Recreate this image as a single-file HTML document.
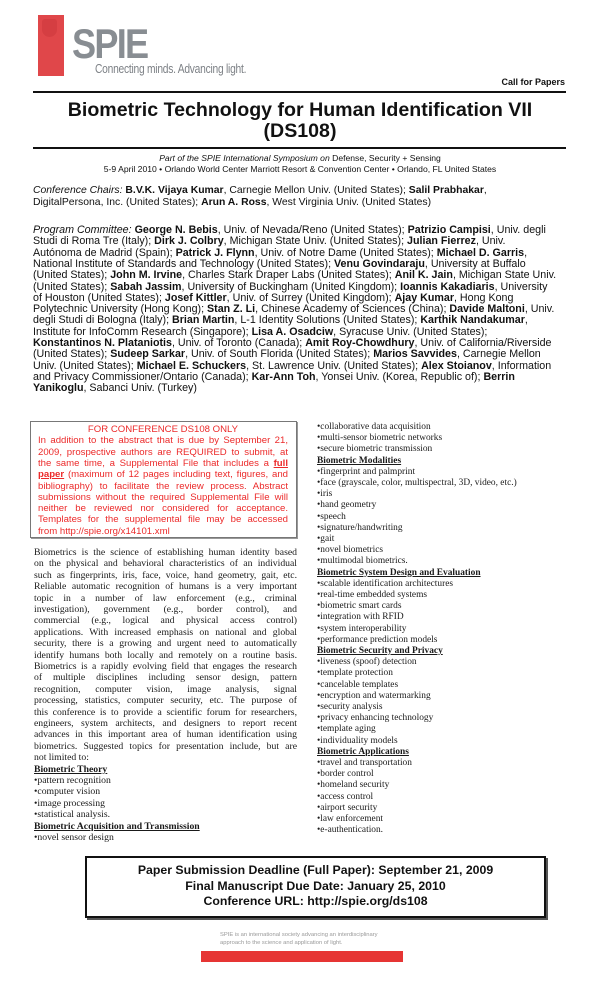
<!DOCTYPE html>
<html><head><meta charset="utf-8"><style>
*{margin:0;padding:0;box-sizing:border-box}
body{width:600px;height:988px;background:#fff;position:relative;overflow:hidden;font-family:"Liberation Sans",Arial,sans-serif;color:#111}
.a{position:absolute;white-space:nowrap}
.s{font-family:"Liberation Serif",serif}
.j{text-align:justify;text-align-last:justify;white-space:nowrap;overflow:visible}
.pc div{position:absolute;left:0;white-space:nowrap;height:11px;line-height:11px}
.rb div{position:absolute;left:0;width:250px;height:11px;line-height:11px;text-align:justify;text-align-last:justify;white-space:nowrap}
.lb div{position:absolute;left:0;width:263px;height:11px;line-height:11px}
.rc div{position:absolute;left:0;height:11px;line-height:11px;white-space:nowrap}
</style></head><body>
<div class="a" style="left:38px;top:15px;width:26px;height:61px;background:#e0474a"></div>
<div class="a" style="left:42px;top:19px;width:15px;height:18px;border-radius:3px 3px 8px 8px;background:#d23c40;opacity:.8"></div>
<div class="a" style="left:72px;top:22px;font-size:42px;font-weight:bold;color:#888d92;letter-spacing:-2px;line-height:44px;transform:scaleX(0.86);transform-origin:left">SPIE</div>
<div class="a" style="left:95px;top:62px;font-size:12.5px;color:#7d8186;letter-spacing:-.3px;line-height:14px;transform:scaleX(0.82);transform-origin:left">Connecting minds. Advancing light.</div>
<div class="a" style="right:35px;top:77px;font-size:9px;font-weight:bold;line-height:11px">Call for Papers</div>
<div class="a" style="left:33px;top:91px;width:533px;height:2px;background:#111"></div>
<div class="a" style="left:0;width:600px;top:100px;text-align:center;font-size:19.6px;font-weight:bold;line-height:21px">Biometric Technology for Human Identification VII<br>(DS108)</div>
<div class="a" style="left:33px;top:147px;width:533px;height:2px;background:#111"></div>
<div class="a" style="left:0;width:600px;top:153px;text-align:center;font-size:8.6px;line-height:11px"><i>Part of the SPIE International Symposium on</i> Defense, Security + Sensing<br>5-9 April 2010 • Orlando World Center Marriott Resort &amp; Convention Center • Orlando, FL United States</div>
<div class="a" style="left:33px;top:185px;font-size:10.4px;line-height:12px"><i>Conference Chairs:</i> <b>B.V.K. Vijaya Kumar</b>, Carnegie Mellon Univ. (United States); <b>Salil Prabhakar</b>,<br>DigitalPersona, Inc. (United States); <b>Arun A. Ross</b>, West Virginia Univ. (United States)</div>
<div class="pc" style="position:absolute;left:33px;top:225px;font-size:10.7px">
<div style="top:0"><i>Program Committee:</i> <b>George N. Bebis</b>, Univ. of Nevada/Reno (United States); <b>Patrizio Campisi</b>, Univ. degli</div>
<div style="top:11.3px">Studi di Roma Tre (Italy); <b>Dirk J. Colbry</b>, Michigan State Univ. (United States); <b>Julian Fierrez</b>, Univ.</div>
<div style="top:22.6px">Autónoma de Madrid (Spain); <b>Patrick J. Flynn</b>, Univ. of Notre Dame (United States); <b>Michael D. Garris</b>,</div>
<div style="top:33.9px">National Institute of Standards and Technology (United States); <b>Venu Govindaraju</b>, University at Buffalo</div>
<div style="top:45.2px">(United States); <b>John M. Irvine</b>, Charles Stark Draper Labs (United States); <b>Anil K. Jain</b>, Michigan State Univ.</div>
<div style="top:56.5px">(United States); <b>Sabah Jassim</b>, University of Buckingham (United Kingdom); <b>Ioannis Kakadiaris</b>, University</div>
<div style="top:67.8px">of Houston (United States); <b>Josef Kittler</b>, Univ. of Surrey (United Kingdom); <b>Ajay Kumar</b>, Hong Kong</div>
<div style="top:79.1px">Polytechnic University (Hong Kong); <b>Stan Z. Li</b>, Chinese Academy of Sciences (China); <b>Davide Maltoni</b>, Univ.</div>
<div style="top:90.4px">degli Studi di Bologna (Italy); <b>Brian Martin</b>, L-1 Identity Solutions (United States); <b>Karthik Nandakumar</b>,</div>
<div style="top:101.7px">Institute for InfoComm Research (Singapore); <b>Lisa A. Osadciw</b>, Syracuse Univ. (United States);</div>
<div style="top:113px"><b>Konstantinos N. Plataniotis</b>, Univ. of Toronto (Canada); <b>Amit Roy-Chowdhury</b>, Univ. of California/Riverside</div>
<div style="top:124.3px">(United States); <b>Sudeep Sarkar</b>, Univ. of South Florida (United States); <b>Marios Savvides</b>, Carnegie Mellon</div>
<div style="top:135.6px">Univ. (United States); <b>Michael E. Schuckers</b>, St. Lawrence Univ. (United States); <b>Alex Stoianov</b>, Information</div>
<div style="top:146.9px">and Privacy Commissioner/Ontario (Canada); <b>Kar-Ann Toh</b>, Yonsei Univ. (Korea, Republic of); <b>Berrin</b></div>
<div style="top:158.2px"><b>Yanikoglu</b>, Sabanci Univ. (Turkey)</div>
</div>
<div class="a" style="left:30px;top:421px;width:267px;height:117px;border:1px solid #777;box-shadow:1px 1px 0 #999"></div>
<div class="rb" style="position:absolute;left:38px;top:424px;font-size:9.6px;color:#ec2a2a">
<div style="top:0;text-align:center;text-align-last:center">FOR CONFERENCE DS108 ONLY</div>
<div style="top:11.3px">In addition to the abstract that is due by September 21,</div>
<div style="top:22.6px">2009, prospective authors are REQUIRED to submit, at</div>
<div style="top:33.9px">the same time, a Supplemental File that includes a <b><u>full</u></b></div>
<div style="top:45.2px"><b><u>paper</u></b> (maximum of 12 pages including text, figures, and</div>
<div style="top:56.5px">bibliography) to facilitate the review process. Abstract</div>
<div style="top:67.8px">submissions without the required Supplemental File will</div>
<div style="top:79.1px">neither be reviewed nor considered for acceptance.</div>
<div style="top:90.4px">Templates for the supplemental file may be accessed</div>
<div style="top:101.7px;text-align:left;text-align-last:left">from http://spie.org/x14101.xml</div>
</div>
<div class="lb s" style="position:absolute;left:34px;top:547px;font-size:9.7px;color:#1a1a1a">
<div class="j" style="top:0">Biometrics is the science of establishing human identity based</div>
<div class="j" style="top:11.4px">on the physical and behavioral characteristics of an individual</div>
<div class="j" style="top:22.8px">such as fingerprints, iris, face, voice, hand geometry, gait, etc.</div>
<div class="j" style="top:34.2px">Reliable automatic recognition of humans is a very important</div>
<div class="j" style="top:45.6px">topic in a number of law enforcement (e.g., criminal</div>
<div class="j" style="top:57px">investigation), government (e.g., border control), and</div>
<div class="j" style="top:68.4px">commercial (e.g., logical and physical access control)</div>
<div class="j" style="top:79.8px">applications. With increased emphasis on national and global</div>
<div class="j" style="top:91.2px">security, there is a growing and urgent need to automatically</div>
<div class="j" style="top:102.6px">identify humans both locally and remotely on a routine basis.</div>
<div class="j" style="top:114px">Biometrics is a rapidly evolving field that engages the research</div>
<div class="j" style="top:125.4px">of multiple disciplines including sensor design, pattern</div>
<div class="j" style="top:136.8px">recognition, computer vision, image analysis, signal</div>
<div class="j" style="top:148.2px">processing, statistics, computer security, etc. The purpose of</div>
<div class="j" style="top:159.6px">this conference is to provide a scientific forum for researchers,</div>
<div class="j" style="top:171px">engineers, system architects, and designers to report recent</div>
<div class="j" style="top:182.4px">advances in this important area of human identification using</div>
<div class="j" style="top:193.8px">biometrics. Suggested topics for presentation include, but are</div>
<div style="top:205.2px">not limited to:</div>
<div style="top:216.6px"><b><u>Biometric Theory</u></b></div>
<div style="top:228px">•pattern recognition</div>
<div style="top:239.4px">•computer vision</div>
<div style="top:250.8px">•image processing</div>
<div style="top:262.2px">•statistical analysis.</div>
<div style="top:273.6px"><b><u>Biometric Acquisition and Transmission</u></b></div>
<div style="top:285px">•novel sensor design</div>
</div>
<div class="rc s" style="position:absolute;left:317px;top:422px;font-size:9.4px;color:#1a1a1a">
<div style="top:0">•collaborative data acquisition</div>
<div style="top:11.2px">•multi-sensor biometric networks</div>
<div style="top:22.4px">•secure biometric transmission</div>
<div style="top:33.6px"><b><u>Biometric Modalities</u></b></div>
<div style="top:44.8px">•fingerprint and palmprint</div>
<div style="top:56px">•face (grayscale, color, multispectral, 3D, video, etc.)</div>
<div style="top:67.2px">•iris</div>
<div style="top:78.4px">•hand geometry</div>
<div style="top:89.6px">•speech</div>
<div style="top:100.8px">•signature/handwriting</div>
<div style="top:112px">•gait</div>
<div style="top:123.2px">•novel biometrics</div>
<div style="top:134.4px">•multimodal biometrics.</div>
<div style="top:145.6px"><b><u>Biometric System Design and Evaluation</u></b></div>
<div style="top:156.8px">•scalable identification architectures</div>
<div style="top:168px">•real-time embedded systems</div>
<div style="top:179.2px">•biometric smart cards</div>
<div style="top:190.4px">•integration with RFID</div>
<div style="top:201.6px">•system interoperability</div>
<div style="top:212.8px">•performance prediction models</div>
<div style="top:224px"><b><u>Biometric Security and Privacy</u></b></div>
<div style="top:235.2px">•liveness (spoof) detection</div>
<div style="top:246.4px">•template protection</div>
<div style="top:257.6px">•cancelable templates</div>
<div style="top:268.8px">•encryption and watermarking</div>
<div style="top:280px">•security analysis</div>
<div style="top:291.2px">•privacy enhancing technology</div>
<div style="top:302.4px">•template aging</div>
<div style="top:313.6px">•individuality models</div>
<div style="top:324.8px"><b><u>Biometric Applications</u></b></div>
<div style="top:336px">•travel and transportation</div>
<div style="top:347.2px">•border control</div>
<div style="top:358.4px">•homeland security</div>
<div style="top:369.6px">•access control</div>
<div style="top:380.8px">•airport security</div>
<div style="top:392px">•law enforcement</div>
<div style="top:403.2px">•e-authentication.</div>
</div>
<div class="a" style="left:85px;top:856px;width:461px;height:62px;border:2px solid #111;box-shadow:2px 2px 0 #555"></div>
<div class="a" style="left:85px;width:461px;top:863px;text-align:center;font-size:12.3px;font-weight:bold;line-height:15.5px">Paper Submission Deadline (Full Paper): September 21, 2009<br>Final Manuscript Due Date: January 25, 2010<br>Conference URL: http://spie.org/ds108</div>
<div class="a" style="left:220px;top:931px;font-size:5.8px;line-height:8px;color:#999">SPIE is an international society advancing an interdisciplinary<br>approach to the science and application of light.</div>
<div class="a" style="left:201px;top:951px;width:202px;height:11px;background:#e63534"></div>
</body></html>
